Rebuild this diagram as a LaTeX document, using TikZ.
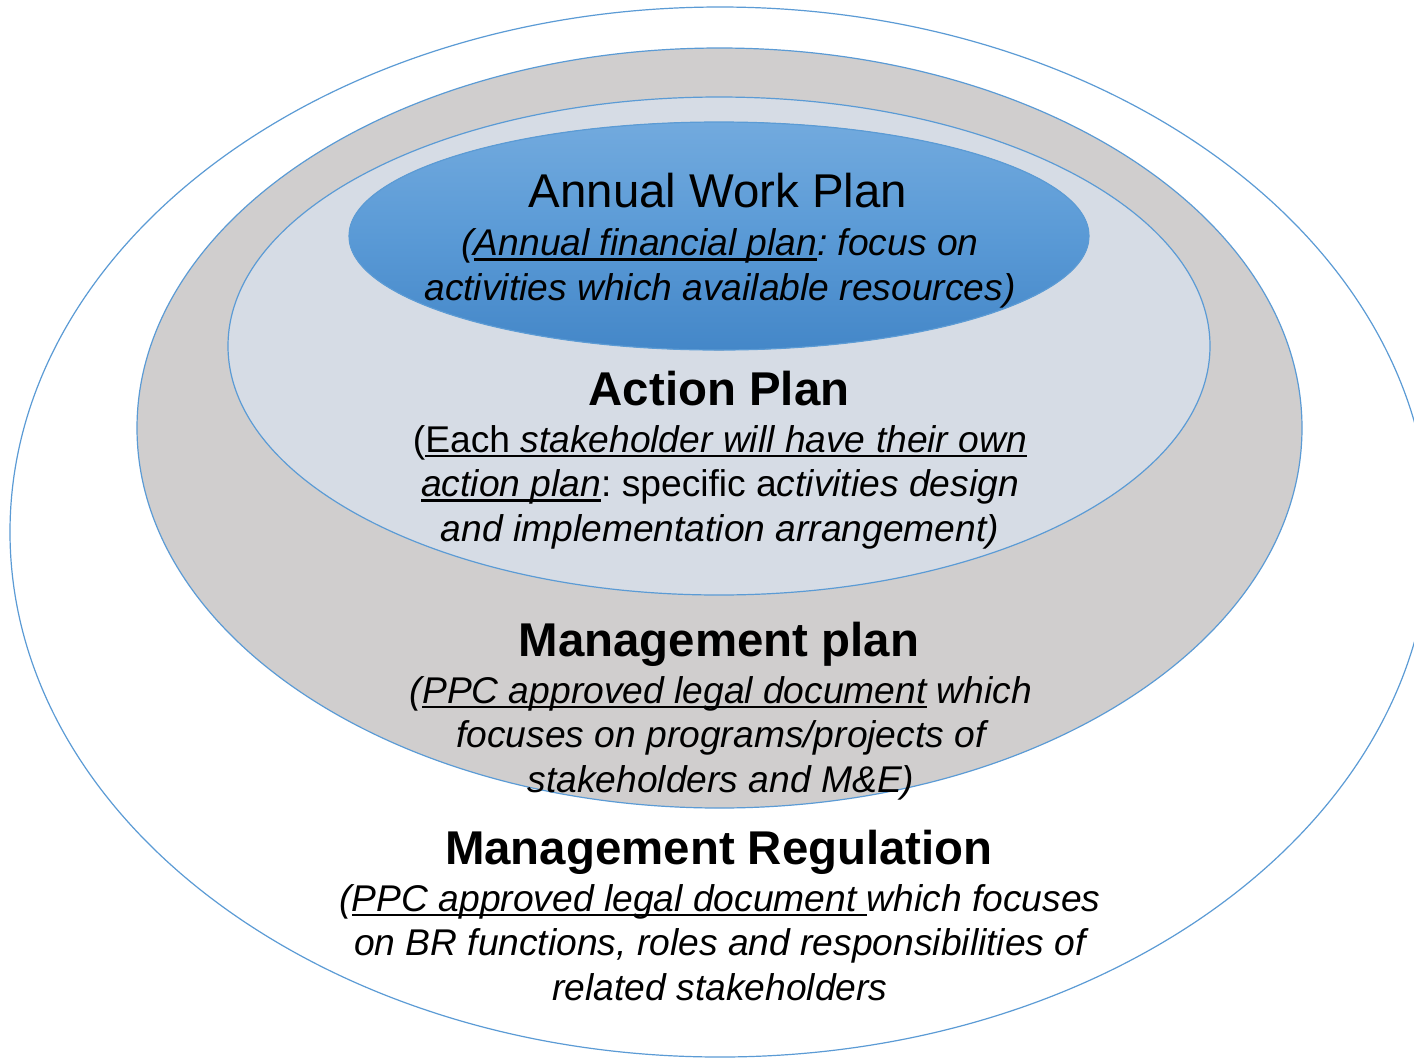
\documentclass[tikz,border=0pt]{standalone}
\usepackage{fontspec}
\setmainfont{Liberation Sans}
\frenchspacing
\definecolor{ringline}{HTML}{5B9BD5}
\definecolor{ringgray}{HTML}{D0CECE}
\definecolor{ringpale}{HTML}{D6DCE5}
\definecolor{awptop}{HTML}{72AADE}
\definecolor{awpmid}{HTML}{5A9AD6}
\definecolor{awpbot}{HTML}{4487C8}
%% underline with a heavier rule
\newcommand{\undl}[1]{\setbox0=\hbox{#1}\rlap{\rule[-2.6pt]{\wd0}{1.3pt}}\box0\relax}

\begin{document}
\begin{tikzpicture}
[x=0.5pt,y=-0.5pt,
  ringdecorate/.style={draw=ringline,line width=0.6pt},
  headdecorate/.style={font=\fontsize{23.7}{28}\selectfont,anchor=base,inner sep=0pt},
  bodydecorate/.style={font=\fontsize{18.6}{22.2}\selectfont,align=center,anchor=base,inner sep=0pt},
  itbodydecorate/.style={bodydecorate,font=\fontsize{18.6}{22.2}\selectfont\itshape}]
\useasboundingbox (0,0) rectangle (1414,1057);
\fill[white] (0,0) rectangle (1414,1057);
\clip (0,0) rectangle (1414,1057);
%% rings
\foreach \cx/\cy/\rx/\ry/\fillcol in {720/532/710/525/white,
  719.5/428/582.5/380/ringgray, 719/346/491/249/ringpale} {
  \filldraw[ringdecorate,fill=\fillcol] (\cx,\cy) ellipse [x radius=\rx, y radius=\ry];
}
\filldraw[ringdecorate,top color=awptop,bottom color=awpbot,middle color=awpmid]
  (719,236) ellipse [x radius=370, y radius=114];
%% titles
\node (awp) at (718,207) [headdecorate] {Annual Work Plan};
\foreach \nodename/\y/\ttl in {actp/405/Action Plan, mgtp/656/Management plan,
  mgtr/864/Management Regulation} {
  \node (\nodename) at (719,\y) [headdecorate] {\bfseries \ttl};
}
%% descriptions (anchored at the baseline of the last line)
\node (awptext) at (720,300) [itbodydecorate]
  {(\undl{Annual financial plan}: focus on\\activities which available resources)};
\node (actptext) at (720,541) [bodydecorate]
  {(\undl{Each \textit{stakeholder will have their own}}\\
   \undl{\textit{action plan}}: specific a\textit{ctivities design}\\
   \textit{and implementation arrangement)}};
\node (mgtptext) at (721,792) [itbodydecorate]
  {(\undl{PPC approved legal document} which\\focuses on programs/projects of\\stakeholders and M\&E)};
\node (mgtrtext) at (720,1000) [itbodydecorate]
  {(\undl{PPC approved legal document }which focuses\\on BR functions, roles and responsibilities of\\related stakeholders};
\end{tikzpicture}
\end{document}
